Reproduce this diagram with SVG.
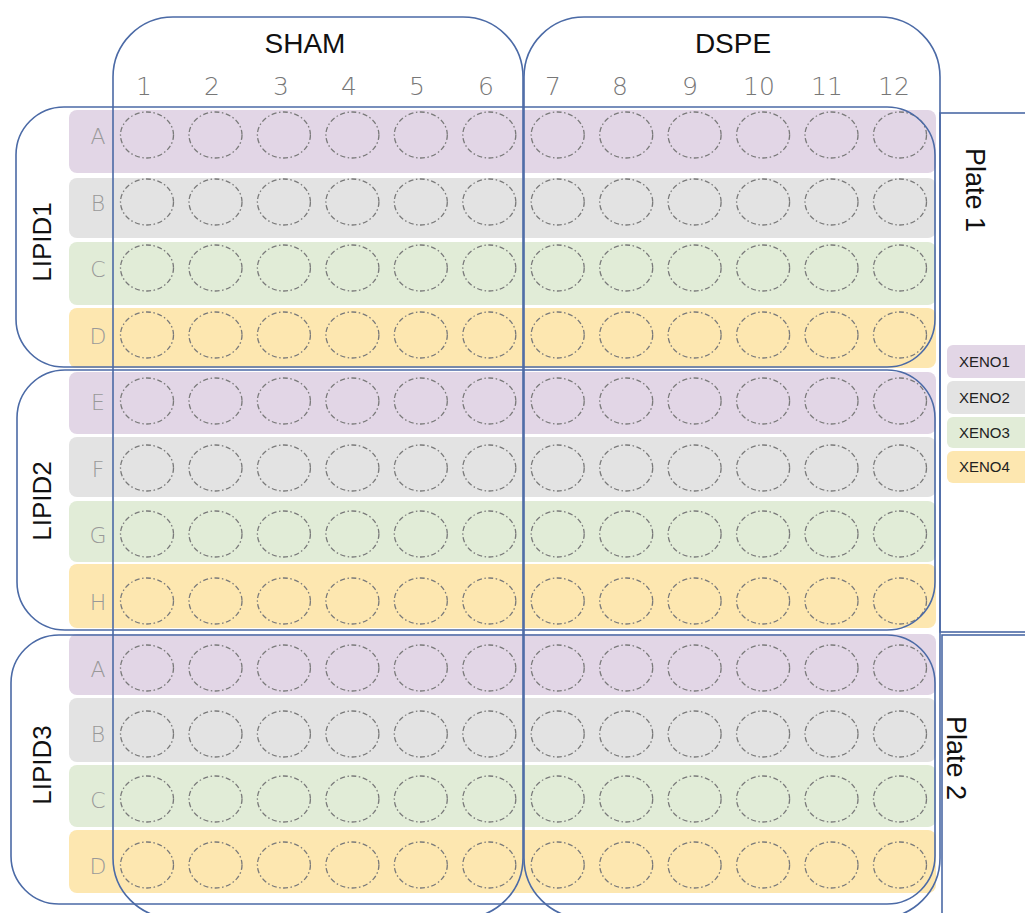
<svg xmlns="http://www.w3.org/2000/svg" xmlns:xlink="http://www.w3.org/1999/xlink" width="1025" height="913" viewBox="0 0 1025 913">
<style>
.frame{fill:none;stroke:#4b6aa6;stroke-width:1.6}
.r1{fill:#e2d6e6}.r2{fill:#e3e3e3}.r3{fill:#e1ecd7}.r4{fill:#fde7b0}
.lbl{font-family:"Liberation Sans",Arial,sans-serif;fill:#111}
.num{font-family:"DejaVu Sans",sans-serif;font-weight:200;font-size:25px;fill:#777;text-anchor:middle}
.let{font-family:"DejaVu Sans",sans-serif;font-weight:200;font-size:22px;fill:#999;text-anchor:middle}
.leg{font-family:"Liberation Sans",Arial,sans-serif;font-size:15px;fill:#222}
</style>
<defs>
<ellipse id="w" cx="0" cy="0" rx="26.5" ry="23" fill="none" stroke="#7a7a7a" stroke-width="1.3" stroke-dasharray="5 2.5 1.5 2.5"/>
<g id="wrow">
<use xlink:href="#w" href="#w" x="147" y="0"/>
<use xlink:href="#w" href="#w" x="215.5" y="0"/>
<use xlink:href="#w" href="#w" x="283.9" y="0"/>
<use xlink:href="#w" href="#w" x="352.4" y="0"/>
<use xlink:href="#w" href="#w" x="420.8" y="0"/>
<use xlink:href="#w" href="#w" x="489.3" y="0"/>
<use xlink:href="#w" href="#w" x="557.7" y="0"/>
<use xlink:href="#w" href="#w" x="626.2" y="0"/>
<use xlink:href="#w" href="#w" x="694.6" y="0"/>
<use xlink:href="#w" href="#w" x="763.1" y="0"/>
<use xlink:href="#w" href="#w" x="831.5" y="0"/>
<use xlink:href="#w" href="#w" x="900" y="0"/>
</g>
</defs>
<rect width="1025" height="913" fill="#fff"/>

<g id="rows">
<rect class="r1" x="69" y="110" width="867" height="63" rx="8"/>
<rect class="r2" x="69" y="178" width="867" height="60" rx="8"/>
<rect class="r3" x="69" y="242" width="867" height="63" rx="8"/>
<rect class="r4" x="69" y="308" width="867" height="60" rx="8"/>
<rect class="r1" x="69" y="372" width="867" height="62" rx="8"/>
<rect class="r2" x="69" y="437" width="867" height="60" rx="8"/>
<rect class="r3" x="69" y="501" width="867" height="61" rx="8"/>
<rect class="r4" x="69" y="564" width="867" height="64" rx="8"/>
<rect class="r1" x="69" y="634" width="867" height="61" rx="8"/>
<rect class="r2" x="69" y="698" width="867" height="64" rx="8"/>
<rect class="r3" x="69" y="765" width="867" height="62" rx="8"/>
<rect class="r4" x="69" y="830" width="867" height="63" rx="8"/>
</g>

<g id="row-letters">
<text class="let" x="98" y="144">A</text>
<text class="let" x="98" y="211">B</text>
<text class="let" x="98" y="277">C</text>
<text class="let" x="98" y="344">D</text>
<text class="let" x="98" y="410">E</text>
<text class="let" x="98" y="477">F</text>
<text class="let" x="98" y="543">G</text>
<text class="let" x="98" y="610">H</text>
<text class="let" x="98" y="677">A</text>
<text class="let" x="98" y="742">B</text>
<text class="let" x="98" y="808">C</text>
<text class="let" x="98" y="874">D</text>
</g>

<g id="col-numbers">
<text class="num" x="144" y="95">1</text>
<text class="num" x="212" y="95">2</text>
<text class="num" x="281" y="95">3</text>
<text class="num" x="349" y="95">4</text>
<text class="num" x="417" y="95">5</text>
<text class="num" x="486" y="95">6</text>
<text class="num" x="553" y="95">7</text>
<text class="num" x="620" y="95">8</text>
<text class="num" x="690" y="95">9</text>
<text class="num" x="759" y="95">10</text>
<text class="num" x="827" y="95">11</text>
<text class="num" x="894" y="95">12</text>
</g>

<g id="wells">
<use xlink:href="#wrow" href="#wrow" y="135"/>
<use xlink:href="#wrow" href="#wrow" y="202"/>
<use xlink:href="#wrow" href="#wrow" y="268"/>
<use xlink:href="#wrow" href="#wrow" y="335"/>
<use xlink:href="#wrow" href="#wrow" y="401"/>
<use xlink:href="#wrow" href="#wrow" y="468"/>
<use xlink:href="#wrow" href="#wrow" y="534"/>
<use xlink:href="#wrow" href="#wrow" y="601"/>
<use xlink:href="#wrow" href="#wrow" y="668"/>
<use xlink:href="#wrow" href="#wrow" y="734"/>
<use xlink:href="#wrow" href="#wrow" y="799"/>
<use xlink:href="#wrow" href="#wrow" y="865"/>
</g>

<g id="sham">
<rect class="frame" x="113" y="17" width="410" height="901" rx="60"/>
<text class="lbl" x="305" y="53" font-size="28" text-anchor="middle">SHAM</text>
</g>
<g id="dspe">
<rect class="frame" x="524" y="17" width="416" height="901" rx="60"/>
<text class="lbl" x="733" y="53" font-size="28" text-anchor="middle">DSPE</text>
</g>

<g id="lipid1">
<rect class="frame" x="16" y="107" width="919" height="260" rx="48"/>
<text class="lbl" transform="translate(51,242) rotate(-90)" font-size="26" text-anchor="middle">LIPID1</text>
</g>
<g id="lipid2">
<rect class="frame" x="17" y="370" width="918" height="260" rx="48"/>
<text class="lbl" transform="translate(51,501) rotate(-90)" font-size="26" text-anchor="middle">LIPID2</text>
</g>
<g id="lipid3">
<rect class="frame" x="11" y="635" width="924" height="269" rx="48"/>
<text class="lbl" transform="translate(51,765) rotate(-90)" font-size="26" text-anchor="middle">LIPID3</text>
</g>

<g id="plate1">
<rect class="frame" x="940" y="113" width="100" height="519"/>
<text class="lbl" transform="translate(966,190) rotate(90)" font-size="27" text-anchor="middle">Plate 1</text>
</g>
<g id="plate2">
<rect class="frame" x="942" y="635" width="100" height="300"/>
<text class="lbl" transform="translate(947,758) rotate(90)" font-size="27" text-anchor="middle">Plate 2</text>
</g>

<g id="legend">
<rect class="r1" x="947" y="345" width="90" height="33" rx="6"/>
<text class="leg" x="959" y="367">XENO1</text>
<rect class="r2" x="947" y="381" width="90" height="33" rx="6"/>
<text class="leg" x="959" y="403">XENO2</text>
<rect class="r3" x="947" y="417" width="90" height="31" rx="6"/>
<text class="leg" x="959" y="438">XENO3</text>
<rect class="r4" x="947" y="451" width="90" height="32" rx="6"/>
<text class="leg" x="959" y="472">XENO4</text>
</g>
<g id="connectors"></g>
</svg>
